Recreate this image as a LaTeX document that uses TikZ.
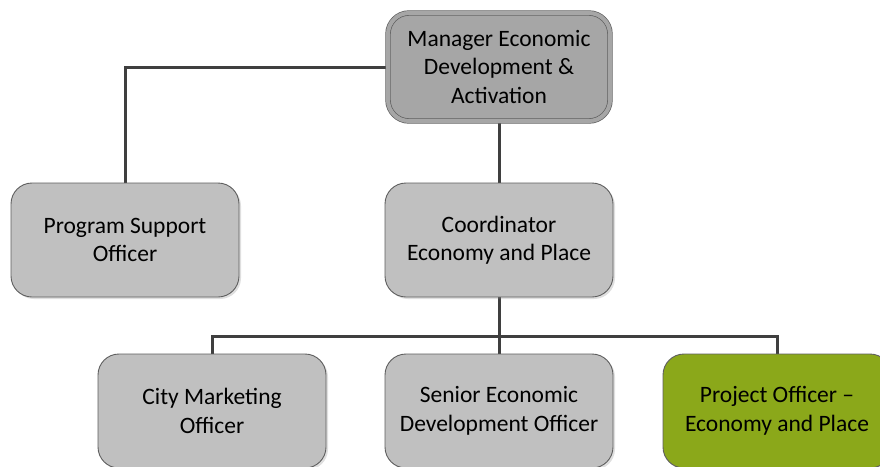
\documentclass[tikz,border=0pt]{standalone}
\usepackage{fontspec}
\setmainfont{Carlito}
\usetikzlibrary{shadows}

\definecolor{boxgray}{HTML}{C0C0C0}
\definecolor{headgray}{HTML}{A6A6A6}
\definecolor{boxgreen}{HTML}{8BA81A}
\definecolor{edgegray}{HTML}{5F5F5F}
\definecolor{linkgray}{HTML}{3F3F3F}

\tikzset{
  role/.style={draw=edgegray,line width=0.9pt,fill=boxgray,rounded corners=21pt,
    minimum width=228pt,minimum height=114pt,align=center,
    font=\fontsize{23.5}{28.5}\selectfont,
    drop shadow={shadow xshift=2pt,shadow yshift=-2pt,opacity=0.25}},
  head/.style={role,fill=headgray,double=headgray,double distance=4pt,line width=0.7pt,
    minimum width=222pt,minimum height=108pt},
  link/.style={draw=linkgray,line width=3pt}
}

\begin{document}
\begin{tikzpicture}[x=1pt,y=-1pt]
  \useasboundingbox (0,0) rectangle (880,466);
  \clip (0,0) rectangle (880,466);
  \fill[white] (0,0) rectangle (880,466);

  % links go first so the boxes sit on top
  \coordinate (split) at (499,336);
  \draw[link] (499,67) -- (499,240);
  \draw[link] (499,67) -| (125,240);
  \draw[link] (499,240) -- (split);
  \draw[link] (split) -| (212,411);
  \draw[link] (split) -| (777,411);
  \draw[link] (split) -- (499,411);

  \node[head] (mgr) at (499,67) {Manager Economic\\Development \&\\Activation};
  \node[role] (pso) at (125,240) {Program Support\\Officer};
  \node[role] (coord) at (499,240) {Coordinator\\Economy and Place};
  \node[role] (city) at (212,411) {City Marketing\\Officer};
  \node[role] (senior) at (499,411) {Senior Economic\\Development Officer};
  \node[role,fill=boxgreen] (proj) at (777,411) {Project Officer --\\Economy and Place};
\end{tikzpicture}
\end{document}
